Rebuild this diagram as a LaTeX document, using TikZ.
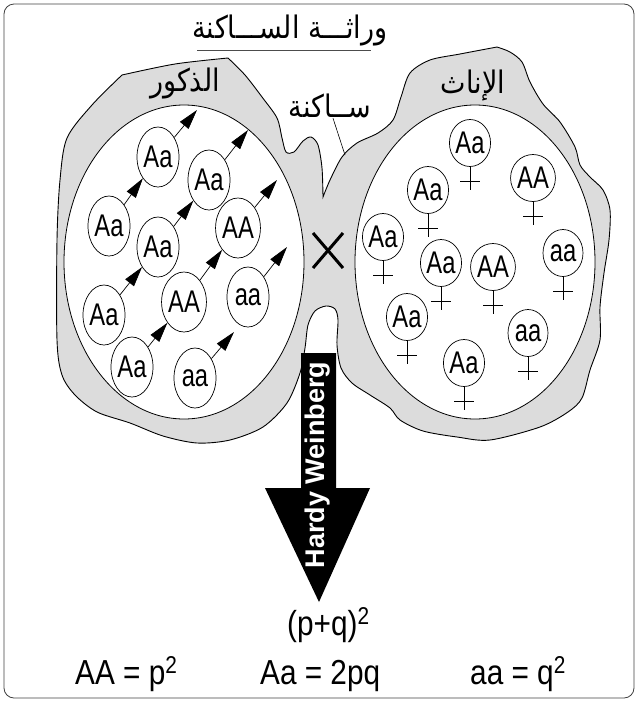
\documentclass[tikz,border=0pt]{standalone}
\usepackage{graphicx}
\usepackage{fontspec}
\setmainfont{Liberation Sans}
\newfontfamily\arabicfont[Script=Arabic]{DejaVu Sans}
\TeXXeTstate=1
\usetikzlibrary{shapes.geometric,arrows.meta}
\definecolor{blobgray}{RGB}{220,220,220}
\newcommand\nar[1]{\scalebox{0.82}[1.08]{#1}}
\newcommand\tall[1]{\scalebox{1}[1.15]{#1}}
\newcommand\eqs[1]{\scalebox{0.96}[1.12]{#1}}
\tikzset{
  geno/.style={ellipse, draw, fill=white, line width=0.7pt, inner sep=0pt,
    minimum width=42pt, minimum height=60pt, font=\fontsize{29}{29}\selectfont},
  fem/.style={ellipse, draw, fill=white, line width=0.7pt, inner sep=0pt,
    minimum width=40pt, minimum height=47pt, font=\fontsize{29}{29}\selectfont},
  arr/.style={line width=0.7pt, -{Triangle[length=20pt,width=11pt]}},
  blob/.style={draw, fill=blobgray, line width=0.9pt},
  inner/.style={draw, fill=white, line width=0.8pt},
  arlabel/.style={font=\arabicfont\fontsize{27}{27}\selectfont, inner sep=0pt},
  eq/.style={font=\fontsize{31}{31}\selectfont, anchor=base west, inner sep=0pt},
}
\begin{document}
\begin{tikzpicture}[x=1pt,y=-1pt]
\useasboundingbox (0,0) rectangle (638,702);
% frame
\draw[black!75, line width=0.8pt, rounded corners=10pt] (4,4) rectangle (634,698);
% title
\node[arlabel] (title) at (290,30) {\tall{\beginR وراثـــة الســـاكنة\endR}};
\draw[black!70, line width=0.8pt] (197,50) -- (371,50);
% population blob
\draw[blob]
  plot[smooth,tension=0.5] coordinates {(323,197) (322,168) (318,145) (311,137) (303,141) (294,152) (286,152) (282,138) (277,118) (262,97) (245,75) (228,58)}
  -- plot[smooth,tension=0.5] coordinates {(228,58) (175,64) (122,75)}
  -- plot[smooth,tension=0.5] coordinates {(122,75) (92,105) (67,138) (60,180) (57,240) (57,340) (62,375) (75,395) (97,412) (130,423) (163,436) (197,443) (230,440) (263,427) (287,403) (300,373) (305,348) (308,325) (315,311) (326,306) (335,309) (338,320) (337,345) (341,368) (352,383) (370,395) (390,408) (400,420) (423,431) (457,437) (490,440) (540,427) (568,412) (582,398) (590,370) (600,340) (600,307) (604,273) (609,240) (610,210) (603,190) (590,177) (580,165) (575,147) (560,122) (543,104) (530,82) (522,62) (510,52) (497,47)}
  -- plot[smooth,tension=0.5] coordinates {(497,47) (460,54) (430,60) (410,73) (401,97) (393,120) (378,133) (357,143) (342,157) (330,180) (323,197)}
  -- cycle;
% inner ellipses
\draw[inner] (184,262) ellipse [x radius=120, y radius=157];
\draw[inner] (475,262) ellipse [x radius=120, y radius=157];
% labels
\node[arlabel] (males) at (185,83) {\tall{\beginR الذكور\endR}};
\node[arlabel] (females) at (473,85) {\tall{\beginR الإناث\endR}};
\node[arlabel] (sak) at (330,106) {\tall{\beginR ســاكنة\endR}};
\coordinate (leadend) at (345,155);
\draw[line width=0.6pt] ([xshift=3pt]sak.south) -- (leadend);
% males
\node[geno] (m1) at (158,157) {\nar{Aa}};
\node[geno] (m2) at (209,180) {\nar{Aa}};
\node[geno] (m3) at (109,226) {\nar{Aa}};
\node[geno] (m4) at (158,247) {\nar{Aa}};
\node[geno] (m5) at (238,228) {\nar{AA}};
\node[geno] (m6) at (104,315) {\nar{Aa}};
\node[geno] (m7) at (184,302) {\nar{AA}};
\node[geno] (m8) at (248,297) {\nar{aa}};
\node[geno] (m9) at (132,367) {\nar{Aa}};
\node[geno] (m10) at (195,378) {\nar{aa}};
\coordinate (t1) at (197,110);
\coordinate (t2) at (248,130);
\coordinate (t3) at (277,180);
\coordinate (t4) at (287,247);
\coordinate (t5) at (234,332);
\draw[arr] (m3) -- (m1);
\draw[arr] (m4) -- (m2);
\draw[arr] (m6) -- (m4);
\draw[arr] (m7) -- (m5);
\draw[arr] (m9) -- (m7);
\draw[arr] (m1) -- (t1);
\draw[arr] (m2) -- (t2);
\draw[arr] (m5) -- (t3);
\draw[arr] (m8) -- (t4);
\draw[arr] (m10) -- (t5);
% females
\node[fem] (f1) at (470,143) {\nar{Aa}};
\node[fem] (f2) at (533,178) {\nar{AA}};
\node[fem] (f3) at (428,190) {\nar{Aa}};
\node[fem] (f4) at (383,237) {\nar{Aa}};
\node[fem] (f5) at (441,263) {\nar{Aa}};
\node[fem] (f6) at (493,267) {\nar{AA}};
\node[fem] (f7) at (563,253) {\nar{aa}};
\node[fem] (f8) at (407,317) {\nar{Aa}};
\node[fem] (f9) at (528,333) {\nar{aa}};
\node[fem] (f10) at (464,363) {\nar{Aa}};
\foreach \f in {f1,f2,f3,f4,f5,f6,f7,f8,f9,f10}{
  \draw[line width=0.7pt] (\f.south) -- ++(0,23) (\f.south) ++(-10,14) -- ++(20,0);
}
% cross sign
\draw[line width=3pt] (313,233) -- (343,268) (343,233) -- (313,268);
% Hardy-Weinberg arrow
\fill[black] (301,353) -- (336,353) -- (336,488) -- (370,488) -- (319,602) -- (265,488) -- (301,488) -- cycle;
\node[rotate=90, text=white, font=\bfseries\fontsize{27}{27}\selectfont] (hw) at (318,465) {Hardy Weinberg};
% formulas
\node[eq] (pq) at (287,635) {\eqs{(p+q)\textsuperscript{2}}};
\node[eq] (eAA) at (75,684) {\eqs{AA = p\textsuperscript{2}}};
\node[eq] (eAa) at (260,684) {\eqs{Aa = 2pq}};
\node[eq] (eaa) at (470,684) {\eqs{aa = q\textsuperscript{2}}};
\end{tikzpicture}
\end{document}
